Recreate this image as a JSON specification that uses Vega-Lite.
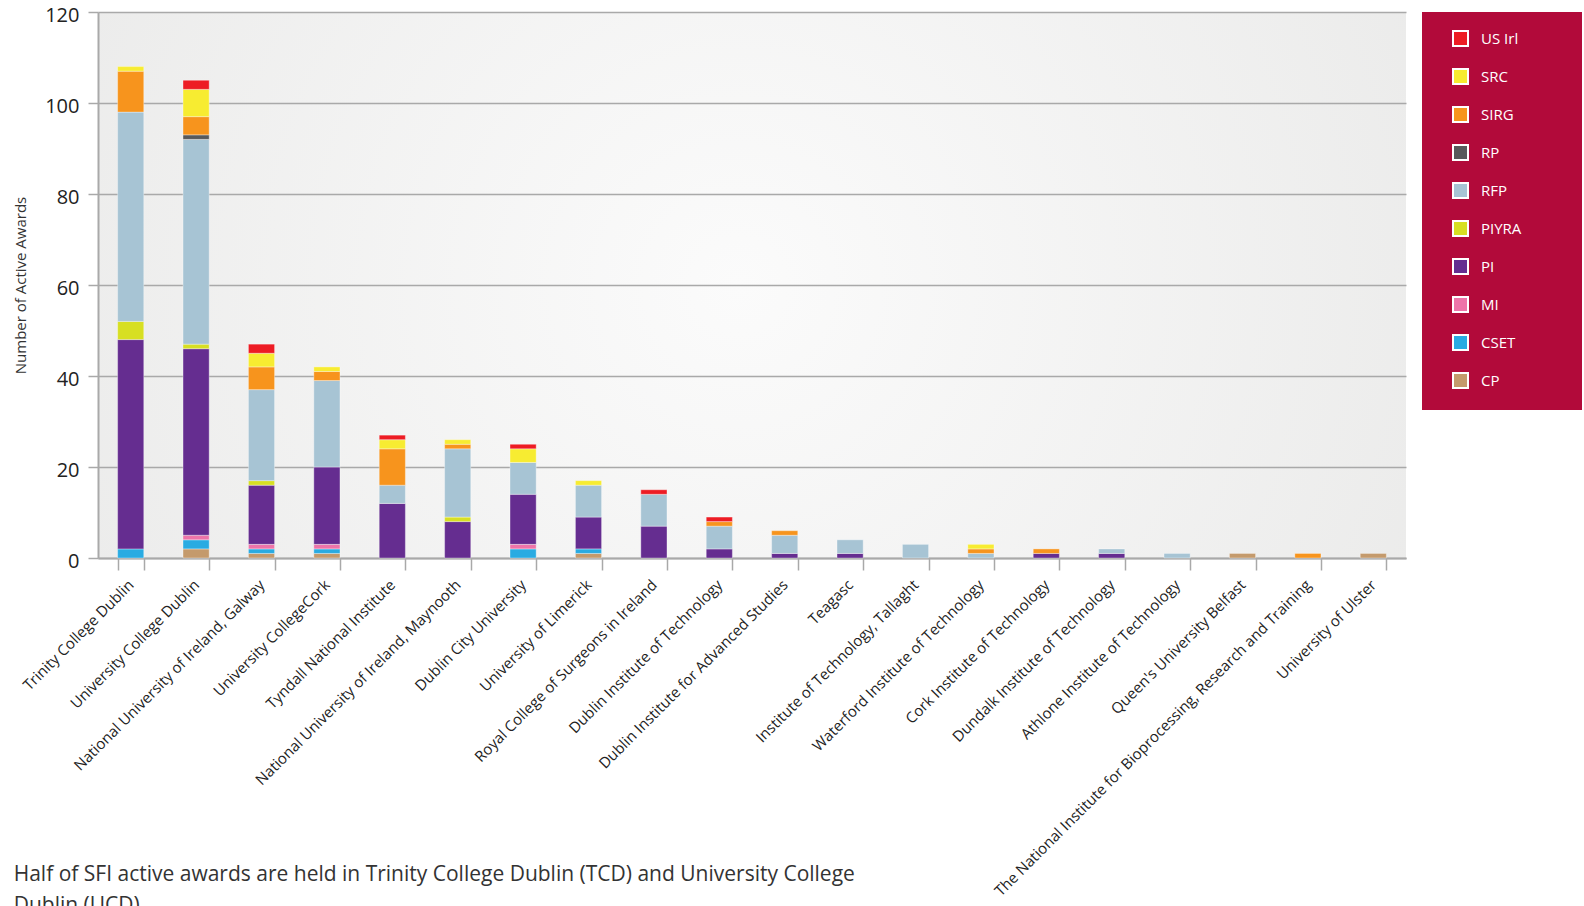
{
  "$schema": "https://vega.github.io/schema/vega-lite/v6.json",
  "autosize": "none",
  "width": 1308,
  "height": 546,
  "padding": {"left": 98, "top": 12, "right": 178, "bottom": 348},
  "background": "#ffffff",
  "title": {
    "text": ["Half of SFI active awards are held in Trinity College Dublin (TCD) and University College", "Dublin (UCD)"],
    "orient": "bottom",
    "anchor": "start",
    "frame": "bounds",
    "offset": -35,
    "fontSize": 21,
    "fontWeight": "normal",
    "color": "#333333",
    "lineHeight": 31,
    "font": "Open Sans"
  },
  "data": {
    "values": [
      {"inst": "Trinity College Dublin", "type": "CSET", "n": 2},
      {"inst": "Trinity College Dublin", "type": "PI", "n": 46},
      {"inst": "Trinity College Dublin", "type": "PIYRA", "n": 4},
      {"inst": "Trinity College Dublin", "type": "RFP", "n": 46},
      {"inst": "Trinity College Dublin", "type": "SIRG", "n": 9},
      {"inst": "Trinity College Dublin", "type": "SRC", "n": 1},
      {"inst": "University College Dublin", "type": "CP", "n": 2},
      {"inst": "University College Dublin", "type": "CSET", "n": 2},
      {"inst": "University College Dublin", "type": "MI", "n": 1},
      {"inst": "University College Dublin", "type": "PI", "n": 41},
      {"inst": "University College Dublin", "type": "PIYRA", "n": 1},
      {"inst": "University College Dublin", "type": "RFP", "n": 45},
      {"inst": "University College Dublin", "type": "RP", "n": 1},
      {"inst": "University College Dublin", "type": "SIRG", "n": 4},
      {"inst": "University College Dublin", "type": "SRC", "n": 6},
      {"inst": "University College Dublin", "type": "US Irl", "n": 2},
      {"inst": "National University of Ireland, Galway", "type": "CP", "n": 1},
      {"inst": "National University of Ireland, Galway", "type": "CSET", "n": 1},
      {"inst": "National University of Ireland, Galway", "type": "MI", "n": 1},
      {"inst": "National University of Ireland, Galway", "type": "PI", "n": 13},
      {"inst": "National University of Ireland, Galway", "type": "PIYRA", "n": 1},
      {"inst": "National University of Ireland, Galway", "type": "RFP", "n": 20},
      {"inst": "National University of Ireland, Galway", "type": "SIRG", "n": 5},
      {"inst": "National University of Ireland, Galway", "type": "SRC", "n": 3},
      {"inst": "National University of Ireland, Galway", "type": "US Irl", "n": 2},
      {"inst": "University CollegeCork", "type": "CP", "n": 1},
      {"inst": "University CollegeCork", "type": "CSET", "n": 1},
      {"inst": "University CollegeCork", "type": "MI", "n": 1},
      {"inst": "University CollegeCork", "type": "PI", "n": 17},
      {"inst": "University CollegeCork", "type": "RFP", "n": 19},
      {"inst": "University CollegeCork", "type": "SIRG", "n": 2},
      {"inst": "University CollegeCork", "type": "SRC", "n": 1},
      {"inst": "Tyndall National Institute", "type": "PI", "n": 12},
      {"inst": "Tyndall National Institute", "type": "RFP", "n": 4},
      {"inst": "Tyndall National Institute", "type": "SIRG", "n": 8},
      {"inst": "Tyndall National Institute", "type": "SRC", "n": 2},
      {"inst": "Tyndall National Institute", "type": "US Irl", "n": 1},
      {"inst": "National University of Ireland, Maynooth", "type": "PI", "n": 8},
      {"inst": "National University of Ireland, Maynooth", "type": "PIYRA", "n": 1},
      {"inst": "National University of Ireland, Maynooth", "type": "RFP", "n": 15},
      {"inst": "National University of Ireland, Maynooth", "type": "SIRG", "n": 1},
      {"inst": "National University of Ireland, Maynooth", "type": "SRC", "n": 1},
      {"inst": "Dublin City University", "type": "CSET", "n": 2},
      {"inst": "Dublin City University", "type": "MI", "n": 1},
      {"inst": "Dublin City University", "type": "PI", "n": 11},
      {"inst": "Dublin City University", "type": "RFP", "n": 7},
      {"inst": "Dublin City University", "type": "SRC", "n": 3},
      {"inst": "Dublin City University", "type": "US Irl", "n": 1},
      {"inst": "University of Limerick", "type": "CP", "n": 1},
      {"inst": "University of Limerick", "type": "CSET", "n": 1},
      {"inst": "University of Limerick", "type": "PI", "n": 7},
      {"inst": "University of Limerick", "type": "RFP", "n": 7},
      {"inst": "University of Limerick", "type": "SRC", "n": 1},
      {"inst": "Royal College of Surgeons in Ireland", "type": "PI", "n": 7},
      {"inst": "Royal College of Surgeons in Ireland", "type": "RFP", "n": 7},
      {"inst": "Royal College of Surgeons in Ireland", "type": "US Irl", "n": 1},
      {"inst": "Dublin Institute of Technology", "type": "PI", "n": 2},
      {"inst": "Dublin Institute of Technology", "type": "RFP", "n": 5},
      {"inst": "Dublin Institute of Technology", "type": "SIRG", "n": 1},
      {"inst": "Dublin Institute of Technology", "type": "US Irl", "n": 1},
      {"inst": "Dublin Institute for Advanced Studies", "type": "PI", "n": 1},
      {"inst": "Dublin Institute for Advanced Studies", "type": "RFP", "n": 4},
      {"inst": "Dublin Institute for Advanced Studies", "type": "SIRG", "n": 1},
      {"inst": "Teagasc", "type": "PI", "n": 1},
      {"inst": "Teagasc", "type": "RFP", "n": 3},
      {"inst": "Institute of Technology, Tallaght", "type": "RFP", "n": 3},
      {"inst": "Waterford Institute of Technology", "type": "RFP", "n": 1},
      {"inst": "Waterford Institute of Technology", "type": "SIRG", "n": 1},
      {"inst": "Waterford Institute of Technology", "type": "SRC", "n": 1},
      {"inst": "Cork Institute of Technology", "type": "PI", "n": 1},
      {"inst": "Cork Institute of Technology", "type": "SIRG", "n": 1},
      {"inst": "Dundalk Institute of Technology", "type": "PI", "n": 1},
      {"inst": "Dundalk Institute of Technology", "type": "RFP", "n": 1},
      {"inst": "Athlone Institute of Technology", "type": "RFP", "n": 1},
      {"inst": "Queen's University Belfast", "type": "CP", "n": 1},
      {"inst": "The National Institute for Bioprocessing, Research and Training", "type": "SIRG", "n": 1},
      {"inst": "University of Ulster", "type": "CP", "n": 1}
    ]
  },
  "mark": {"type": "bar", "stroke": "#ffffff", "strokeOpacity": 0.35, "strokeWidth": 1},
  "encoding": {
    "x": {
      "field": "inst",
      "type": "nominal",
      "sort": null,
      "scale": {"paddingInner": 0.6, "paddingOuter": 0.3},
      "axis": {
        "title": null,
        "labelAngle": -45,
        "labelAlign": "right",
        "labelBaseline": "middle",
        "labelFontSize": 15,
        "labelColor": "#222222",
        "labelLimit": 1000,
        "labelPadding": 12,
        "tickBand": "extent",
        "tickSize": 12,
        "tickWidth": 1.5,
        "tickColor": "#a9a9a9",
        "domainColor": "#a9a9a9",
        "domainWidth": 2
      }
    },
    "y": {
      "field": "n",
      "type": "quantitative",
      "aggregate": "sum",
      "stack": "zero",
      "scale": {"domain": [0, 120], "nice": false},
      "axis": {
        "title": "Number of Active Awards",
        "values": [0, 20, 40, 60, 80, 100, 120],
        "grid": true,
        "gridColor": "#a9a9a9",
        "gridWidth": 1.5,
        "domainColor": "#a9a9a9",
        "domainWidth": 2,
        "tickColor": "#a9a9a9",
        "tickSize": 10,
        "tickWidth": 1.5,
        "labelFontSize": 20,
        "labelColor": "#222222",
        "labelPadding": 9,
        "labelOffset": 3,
        "titleFontSize": 15,
        "titleFontWeight": "normal",
        "titleColor": "#333333",
        "titlePadding": 16
      }
    },
    "color": {
      "field": "type",
      "type": "nominal",
      "scale": {
        "domain": ["US Irl", "SRC", "SIRG", "RP", "RFP", "PIYRA", "PI", "MI", "CSET", "CP"],
        "range": ["#ED1C24", "#F7EC31", "#F7941D", "#58595B", "#A7C4D4", "#D7DF23", "#652D90", "#EE74A9", "#29ABE2", "#C49A6C"]
      },
      "legend": {
        "title": ".",
        "titleOrient": "right",
        "titleColor": "#B20A3A",
        "titlePadding": 40,
        "titleFontSize": 10,
        "orient": "none",
        "legendX": 1324,
        "legendY": 0,
        "fillColor": "#B20A3A",
        "padding": 18,
        "symbolOffset": 12,
        "symbolType": "square",
        "symbolSize": 225,
        "symbolStrokeColor": "#ffffff",
        "symbolStrokeWidth": 2,
        "symbolOpacity": 1,
        "labelColor": "#ffffff",
        "labelFontSize": 15,
        "labelOffset": 12,
        "rowPadding": 15
      }
    },
    "order": {"field": "type", "sort": "ascending"}
  },
  "config": {
    "font": "Open Sans",
    "view": {
      "stroke": null,
      "fill": {
        "gradient": "radial",
        "x1": 0.49, "y1": 0.5, "x2": 0.49, "y2": 0.5, "r1": 0, "r2": 0.75,
        "stops": [{"offset": 0, "color": "#fbfbfb"}, {"offset": 1, "color": "#e6e6e5"}]
      }
    }
  }
}
